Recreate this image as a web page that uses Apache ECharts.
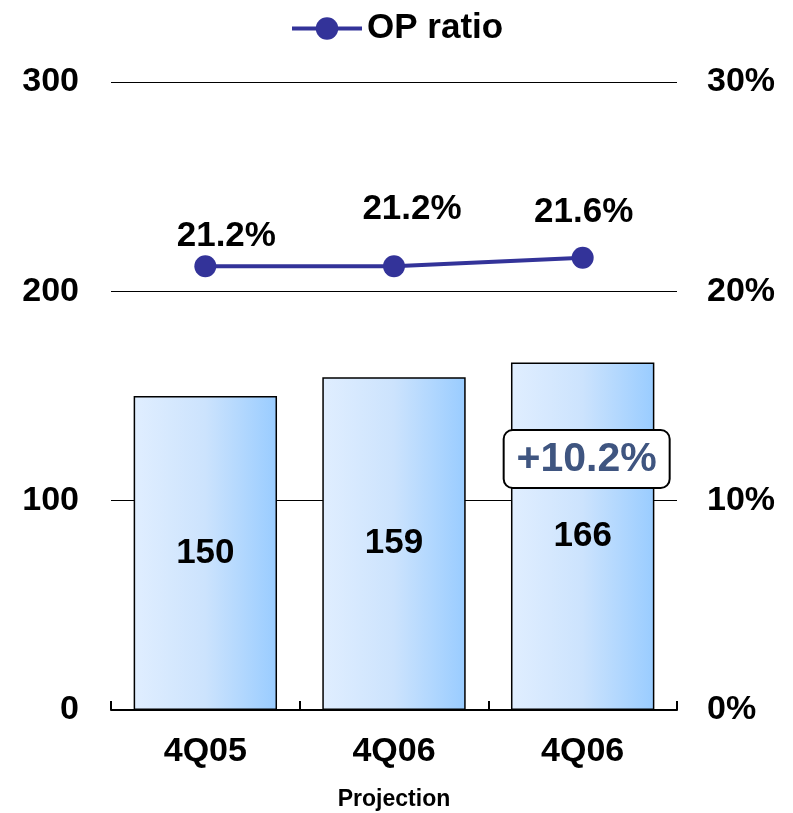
<!DOCTYPE html>
<html><head><meta charset="utf-8">
<script src="https://cdn.jsdelivr.net/npm/echarts@6/dist/echarts.min.js"></script>
<style>html,body{margin:0;padding:0;background:#fff}#c{width:793px;height:813px}</style>
</head><body><div id="c"></div>
<script>
const categories = ['4Q05', '4Q06', '4Q06'];
const opValues = [150, 159, 166];
const opRatio = [21.2, 21.2, 21.6];
const leftTicks = [0, 100, 200, 300];
const rightTicks = [0, 10, 20, 30];
const growthLabel = '+10.2%';
const xName = 'Projection';
const seriesName = 'OP ratio';

const ratioLabelOffsets = [[21, 4], [18, -23], [1, -12]];
const FONT = 'Liberation Sans, Arial, sans-serif';

const chart = echarts.init(document.getElementById('c'), null, {renderer: 'canvas'});
chart.setOption({
  animation: false,
  backgroundColor: '#fff',
  textStyle: {fontFamily: FONT},
  legend: {
    data: [seriesName], top: 6, left: 285,
    itemWidth: 70, itemHeight: 28, itemGap: 8,
    lineStyle: {width: 4},
    textStyle: {fontSize: 35, fontWeight: 'bold', color: '#000', fontFamily: FONT}
  },
  grid: {left: 111, right: 116, top: 82, bottom: 103, outerBoundsMode: 'none', containLabel: false},
  xAxis: {
    type: 'category', data: categories,
    name: xName, nameLocation: 'middle', nameGap: 78,
    nameTextStyle: {fontSize: 23, fontWeight: 'bold', color: '#000', fontFamily: FONT},
    axisLine: {show: true, lineStyle: {color: '#000', width: 2}},
    axisTick: {show: true, inside: true, length: 9, alignWithLabel: false, lineStyle: {color: '#000', width: 2}},
    axisLabel: {fontSize: 34, fontWeight: 'bold', color: '#000', margin: 25, fontFamily: FONT},
    z: 10
  },
  yAxis: [{
    type: 'value', min: leftTicks[0], max: leftTicks[leftTicks.length - 1], interval: 100,
    axisLine: {show: false}, axisTick: {show: false},
    axisLabel: {fontSize: 34, fontWeight: 'bold', color: '#000', margin: 32, fontFamily: FONT},
    splitLine: {lineStyle: {color: '#000', width: 1.2}}
  }, {
    type: 'value', min: rightTicks[0], max: rightTicks[rightTicks.length - 1], interval: 10,
    axisLine: {show: false}, axisTick: {show: false},
    axisLabel: {fontSize: 34, fontWeight: 'bold', color: '#000', margin: 30, formatter: '{value}%', fontFamily: FONT},
    splitLine: {show: false}
  }],
  series: [{
    type: 'bar', data: opValues, barCategoryGap: '24%', z: 2,
    itemStyle: {
      borderColor: '#000', borderWidth: 1.5,
      color: new echarts.graphic.LinearGradient(0, 0, 1, 0, [
        {offset: 0, color: '#E0EEFF'},
        {offset: 0.5, color: '#CCE3FD'},
        {offset: 1, color: '#99CCFF'}
      ])
    },
    label: {show: true, position: 'inside', fontSize: 35, fontWeight: 'bold', color: '#000', fontFamily: FONT}
  }, {
    name: seriesName, type: 'line', yAxisIndex: 1, z: 5,
    data: opRatio.map((v, i) => ({value: v, label: {offset: ratioLabelOffsets[i]}})),
    symbol: 'circle', symbolSize: 22,
    lineStyle: {color: '#333399', width: 4},
    itemStyle: {color: '#333399'},
    label: {show: true, position: 'top', formatter: p => p.value.toFixed(1) + '%',
      fontSize: 35, fontWeight: 'bold', color: '#000', fontFamily: FONT}
  }]
});

const pt = chart.convertToPixel({xAxisIndex: 0, yAxisIndex: 0}, [2, 120]);
chart.setOption({
  graphic: [{
    type: 'rect', z: 100, zlevel: 0,
    shape: {x: pt[0] - 79, y: 430, width: 166, height: 58, r: 9},
    style: {fill: '#fff', stroke: '#000', lineWidth: 2}
  }, {
    type: 'text', z: 101, zlevel: 0, x: pt[0] + 4, y: 460,
    style: {text: growthLabel, fill: '#3F5580', font: 'bold 41px ' + FONT, align: 'center', verticalAlign: 'middle'}
  }]
});
</script></body></html>
